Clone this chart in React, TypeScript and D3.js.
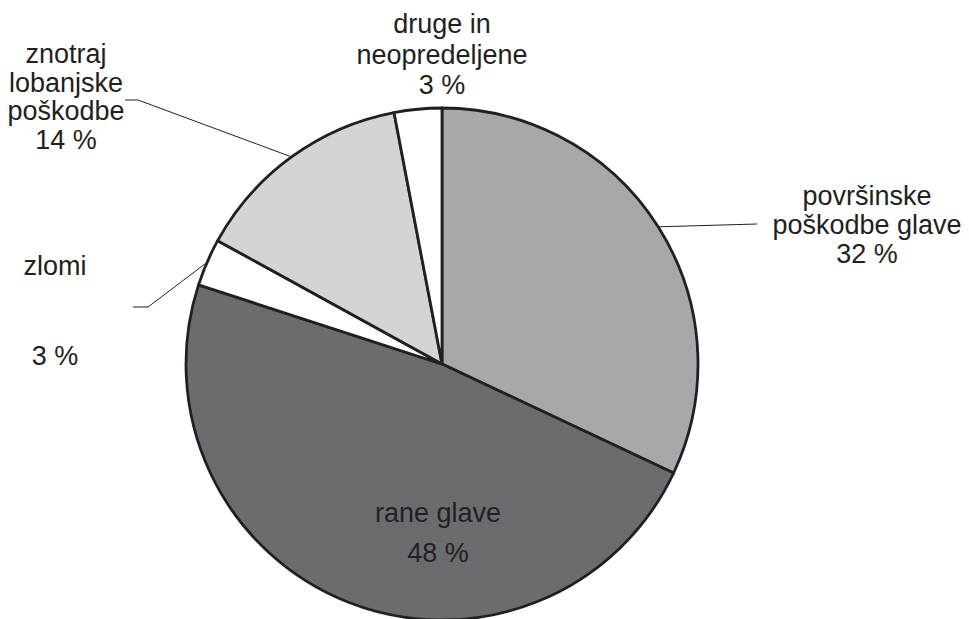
import React, { useRef, useEffect } from 'react';
import * as d3 from 'd3';

const categories = ['površinske poškodbe glave', 'rane glave', 'zlomi', 'znotraj lobanjske poškodbe', 'druge in neopredeljene'];
const values = [32, 48, 3, 14, 3];
const colors = ['#a7a8ab', '#6b6c70', '#ffffff', '#d3d4d6', '#ffffff'];
const labelLines = [
  ['površinske', 'poškodbe glave', '32 %'],
  ['rane glave', '48 %'],
  ['zlomi', '', '', '3 %'],
  ['znotraj', 'lobanjske', 'poškodbe', '14 %'],
  ['druge in', 'neopredeljene', '3 %'],
];

// label anchor (x, first baseline), line height, leader elbow/end
const labelLayout = [
  { x: 867, y: 205, lh: 29, leader: [[757, 224]] },
  { x: 438, y: 522, lh: 40, leader: null },
  { x: 55, y: 275, lh: 30, leader: [[148, 307], [133, 307]] },
  { x: 66, y: 63, lh: 28.5, leader: [[138, 100], [125, 100]] },
  { x: 442, y: 33, lh: 30.5, leader: null },
];

export default function App() {
  const svgRef = useRef<SVGSVGElement>(null);
  const width = 969;
  const height = 619;
  const cx = 442;
  const cy = 364;
  const r = 256;

  useEffect(() => {
    const svg = d3.select(svgRef.current);
    svg.selectAll('*').remove();

    const pie = d3.pie<number>().sort(null).value(d => d);
    const arcs = pie(values);
    const arc = d3.arc<d3.PieArcDatum<number>>().innerRadius(0).outerRadius(r);

    const g = svg.append('g').attr('transform', `translate(${cx},${cy})`);
    g.selectAll('path')
      .data(arcs)
      .join('path')
      .attr('d', arc)
      .attr('fill', (d, i) => colors[i])
      .attr('stroke', '#231f20')
      .attr('stroke-width', 2.8)
      .attr('stroke-linejoin', 'round');

    // leader lines from the middle of each slice's outer edge
    arcs.forEach((a, i) => {
      const lay = labelLayout[i];
      if (!lay.leader) return;
      const mid = (a.startAngle + a.endAngle) / 2;
      const start: [number, number] = [cx + r * Math.sin(mid), cy - r * Math.cos(mid)];
      const pts = [start, ...lay.leader] as [number, number][];
      svg.append('path')
        .attr('d', d3.line()(pts))
        .attr('fill', 'none')
        .attr('stroke', '#231f20')
        .attr('stroke-width', 1);
    });

    labelLines.forEach((lines, i) => {
      const lay = labelLayout[i];
      const t = svg.append('text')
        .attr('text-anchor', 'middle')
        .attr('font-family', '"Liberation Sans", Arial, sans-serif')
        .attr('font-size', 27)
        .attr('fill', '#231f20');
      lines.forEach((ln, j) => {
        if (!ln) return;
        t.append('tspan')
          .attr('x', lay.x)
          .attr('y', lay.y + j * lay.lh)
          .text(ln);
      });
    });
  }, []);

  return (
    <svg
      ref={svgRef}
      width={width}
      height={height}
      style={{ position: 'absolute', left: 0, top: 0, background: '#fff' }}
    />
  );
}
